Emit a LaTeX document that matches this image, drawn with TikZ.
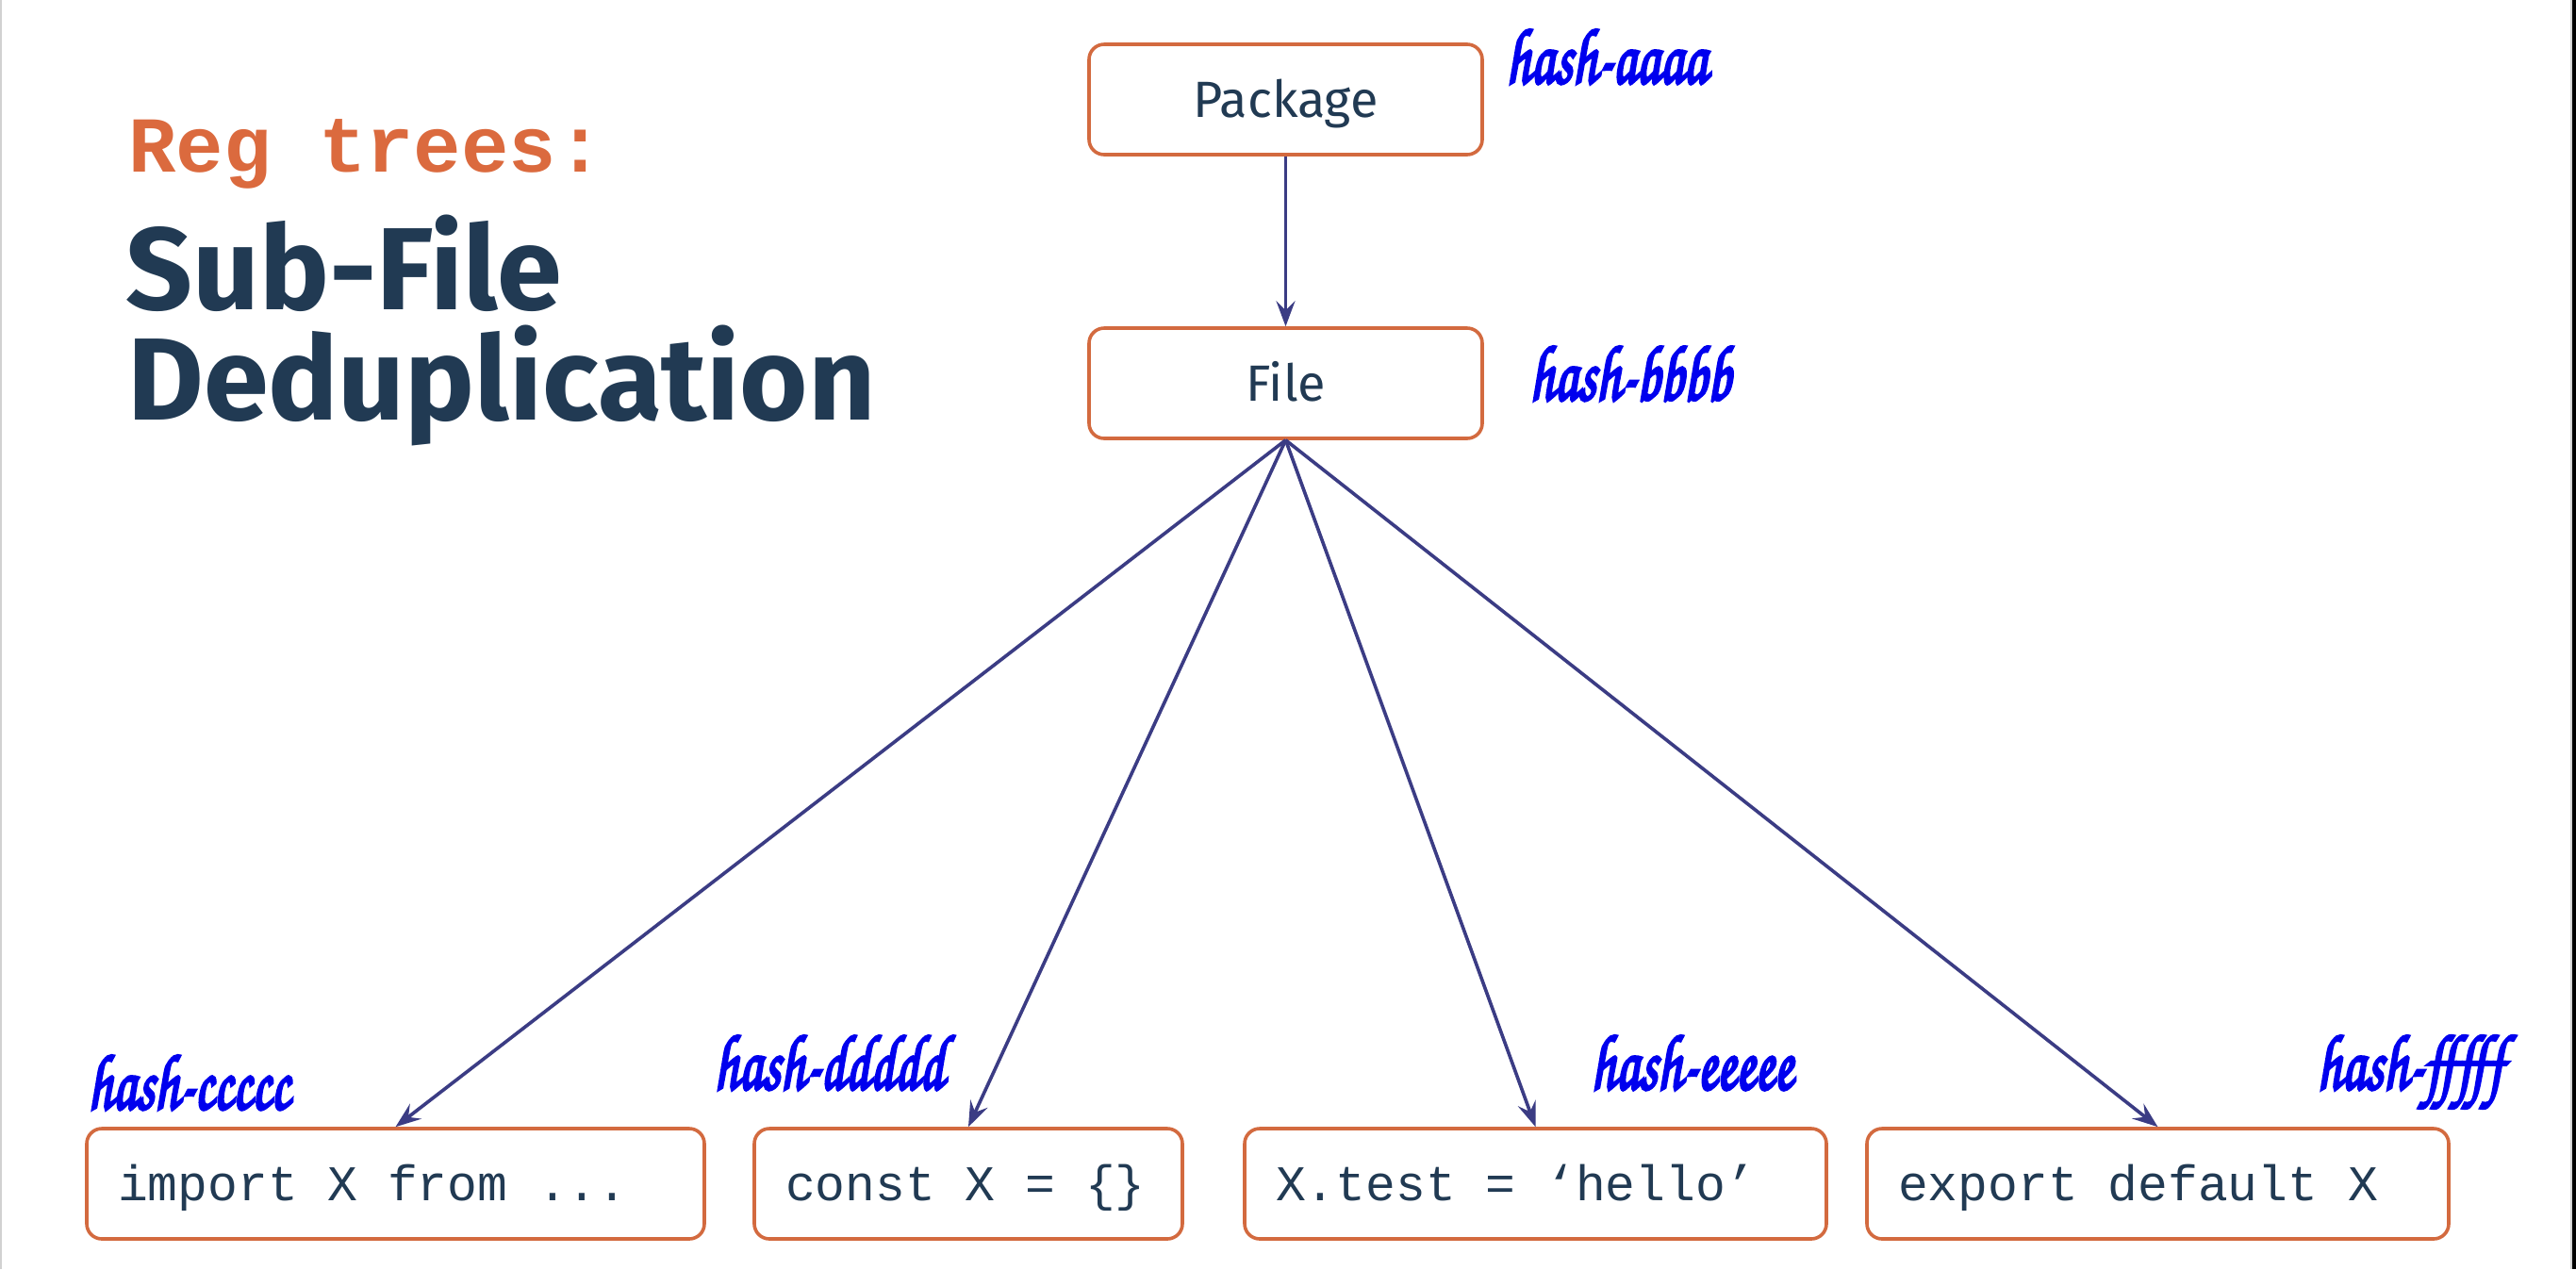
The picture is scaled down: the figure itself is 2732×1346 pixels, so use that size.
\documentclass[tikz,border=0pt]{standalone}
\usepackage{fontspec}
\setmainfont{Fira Sans}
\newfontfamily\codefont{Liberation Mono}
\newfontfamily\hashfont[FakeBold=4]{texgyrechorus-mediumitalic.otf}
\usetikzlibrary{arrows.meta}
\definecolor{boxorange}{HTML}{D36A3F}
\definecolor{titleorange}{HTML}{DB6A3E}
\definecolor{navy}{HTML}{213A53}
\definecolor{arrowblue}{HTML}{3B3C84}
\definecolor{hashblue}{HTML}{0000EE}
\newcommand\monosel{\codefont\fontsize{26.5pt}{26.5pt}\selectfont}
\newcommand\msp{\hspace*{0.6em}}
\newcommand\hashtext[1]{\scalebox{0.93}[1.3]{#1}}
\begin{document}
\begin{tikzpicture}[x=0.5pt,y=-0.5pt,
  topbox/.style={draw=boxorange, line width=1.8pt, rounded corners=8pt,
    minimum width=208.5pt, minimum height=58.5pt, text=navy,
    font=\fontsize{27pt}{27pt}\selectfont, text height=18.5pt, text depth=0pt, inner sep=0pt},
  codebox/.style={draw=boxorange, line width=1.8pt, rounded corners=8pt,
    minimum height=58.5pt, inner xsep=16.5pt, inner ysep=0pt, align=left, text=navy,
    font=\monosel, text height=18pt, text depth=0pt},
  conn/.style={draw=arrowblue, line width=1.8pt, -{Stealth[length=13.5pt,width=10pt,inset=5pt]}},
  hashlabel/.style={anchor=base west, inner sep=0pt, text=hashblue,
    font=\hashfont\fontsize{32pt}{32pt}\selectfont},
  titletext/.style={anchor=base west, inner sep=0pt}
]
\fill[white] (0,0) rectangle (2732,1346);
\useasboundingbox (0,0) rectangle (2732,1346);
\fill[black!18] (0,0) rectangle (2,1346);
\fill[black!18] (2726,0) rectangle (2728,1346);
\fill[black] (2728,0) rectangle (2732,1346);

% titles
\node[titletext, text=titleorange, font=\codefont\bfseries\fontsize{42pt}{42pt}\selectfont] (t1) at (136,182) {Reg\msp trees:};
\node[titletext, text=navy, font=\bfseries\fontsize{62pt}{62pt}\selectfont] (t2) at (133,328) {Sub-File};
\node[titletext, text=navy, font=\bfseries\fontsize{62pt}{62pt}\selectfont] (t3) at (135,445) {Deduplication};

% top boxes
\node[topbox] (pkg) at (1363.5,105.5) {Package};
\node[topbox] (file) at (1363.5,406.5) {File};

% bottom boxes
\node[codebox, text width=294.5pt] (c1) at (419.5,1255.5) {import\msp X\msp from\msp ...};
\node[codebox, text width=194pt] (c2) at (1027,1255.5) {const\msp X\msp =\msp \{\}};
\node[codebox, text width=275.5pt] (c3) at (1628.5,1255.5) {X.test\msp =\msp ‘hello’};
\node[codebox, text width=275.5pt] (c4) at (2288.5,1255.5) {export\msp default\msp X};

% connectors
\draw[conn] (pkg.south) -- (file.north);
\draw[conn] (file.south) -- (c1.north);
\draw[conn] (file.south) -- (c2.north);
\draw[conn] (file.south) -- (c3.north);
\draw[conn] (file.south) -- (c4.north);

% hash labels
\node[hashlabel] (ha) at (1597,88) {\hashtext{hash-aaaa}};
\node[hashlabel] (hb) at (1622,424) {\hashtext{hash-bbbb}};
\node[hashlabel] (hc) at (93,1176) {\hashtext{hash-ccccc}};
\node[hashlabel] (hd) at (757,1155) {\hashtext{hash-ddddd}};
\node[hashlabel] (he) at (1687,1155) {\hashtext{hash-eeeee}};
\node[hashlabel] (hf) at (2457,1155) {\hashtext{hash-fffff}};
\end{tikzpicture}
\end{document}
